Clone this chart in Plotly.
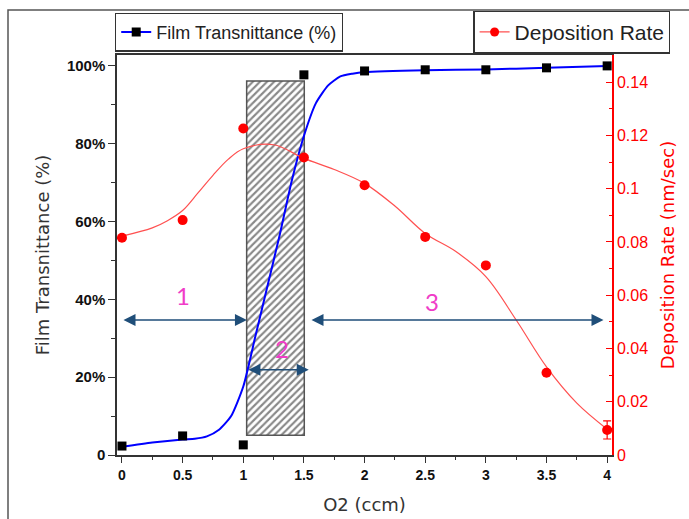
import plotly.graph_objects as go

# ---------------- data ----------------
o2 = [0, 0.5, 1, 1.5, 2, 2.5, 3, 3.5, 4]
transmittance = [2.3, 4.9, 2.6, 97.7, 98.7, 99.0, 99.0, 99.5, 100.0]
dep_rate = [0.0816, 0.0882, 0.1226, 0.1117, 0.1013, 0.0819, 0.0712, 0.0309, 0.0094]
dep_err = [0, 0, 0, 0, 0, 0, 0, 0, 0.0034]

# fitted curves
fit_t_x = [0, 0.25, 0.5, 0.6, 0.7, 0.8, 0.9, 1.0, 1.1, 1.2, 1.3, 1.4, 1.5, 1.6, 1.7, 1.8, 1.9, 2.0, 2.5, 3.0, 3.5, 4.0]
fit_t_y = [2.1, 3.2, 4.0, 4.2, 4.8, 6.5, 10.0, 17.6, 30.5, 43.5, 56.5, 70.5, 82.0, 90.5, 95.0, 97.3, 98.0, 98.4, 98.9, 99.1, 99.5, 100.0]
fit_r_x = [0, 0.25, 0.375, 0.5, 0.625, 0.75, 0.875, 1.0, 1.25, 1.5, 1.75, 2.0, 2.25, 2.5, 2.75, 3.0, 3.25, 3.5, 3.75, 4.0]
fit_r_y = [0.0822, 0.0853, 0.0880, 0.0918, 0.0983, 0.1050, 0.1110, 0.1150, 0.1165, 0.1114, 0.1072, 0.1020, 0.0935, 0.0832, 0.0765, 0.0670, 0.0507, 0.0331, 0.0195, 0.0097]

# transition region (hatched box)
region_x = [1.028, 1.503]
region_y = [5.1, 96.1]

# region arrows: (x_start, x_end, y) and labels
arrows = [(0.0, 1.03, 34.7), (1.03, 1.54, 21.9), (1.55, 3.97, 34.7)]
labels = ["1", "2", "3"]
label_pos = [(0.505, 41.1), (1.317, 27.4), (2.553, 39.4)]

left_ticks = [0, 20, 40, 60, 80, 100]
left_ticktext = ["0", "20%", "40%", "60%", "80%", "100%"]
right_ticks = [0, 0.02, 0.04, 0.06, 0.08, 0.1, 0.12, 0.14]
right_ticktext = ["0", "0.02", "0.04", "0.06", "0.08", "0.1", "0.12", "0.14"]
x_ticks = [0, 0.5, 1, 1.5, 2, 2.5, 3, 3.5, 4]
x_ticktext = ["0", "0.5", "1", "1.5", "2", "2.5", "3", "3.5", "4"]

BLUE = "#0000FF"
RED = "#FF0000"
RED_LINE = "#FF5050"
ARROW = "#1F4E79"
PINK = "#F03CC8"

fig = go.Figure()

# hatched region
fig.add_trace(go.Bar(
    x=[(region_x[0] + region_x[1]) / 2], y=[region_y[1] - region_y[0]], base=[region_y[0]],
    width=[region_x[1] - region_x[0]],
    marker=dict(color="white",
                pattern=dict(shape="/", fgcolor="#111111", bgcolor="white", size=5, solidity=0.42),
                line=dict(color="#555555", width=1.5)),
    showlegend=False, hoverinfo="skip", yaxis="y"))

# transmittance fit line
fig.add_trace(go.Scatter(x=fit_t_x, y=fit_t_y, mode="lines", line=dict(color=BLUE, width=2, shape="spline", smoothing=0.6),
                         showlegend=False, hoverinfo="skip", yaxis="y"))
# transmittance points
fig.add_trace(go.Scatter(x=o2, y=transmittance, mode="markers",
                         marker=dict(symbol="square", color="black", size=9),
                         showlegend=False, yaxis="y"))
# deposition rate fit line
fig.add_trace(go.Scatter(x=fit_r_x, y=fit_r_y, mode="lines", line=dict(color=RED_LINE, width=1.2, shape="spline", smoothing=1.0),
                         showlegend=False, hoverinfo="skip", yaxis="y2"))
# deposition rate points
fig.add_trace(go.Scatter(x=o2, y=dep_rate, mode="markers",
                         marker=dict(symbol="circle", color=RED, size=10),
                         error_y=dict(type="data", array=dep_err, color=RED, thickness=1.2, width=4),
                         showlegend=False, yaxis="y2"))

# legend entries
fig.add_trace(go.Scatter(x=[None], y=[None], mode="lines+markers", name="Film Transnittance (%)",
                         line=dict(color=BLUE, width=2), marker=dict(symbol="square", color="black", size=9),
                         legend="legend", yaxis="y"))
fig.add_trace(go.Scatter(x=[None], y=[None], mode="lines+markers", name="Deposition Rate",
                         line=dict(color=RED_LINE, width=1.2), marker=dict(symbol="circle", color=RED, size=9),
                         legend="legend2", yaxis="y2"))

annotations = []
for (x0, x1, yy) in arrows:
    annotations.append(dict(x=x1, y=yy, ax=x0, ay=yy, xref="x", yref="y", axref="x", ayref="y",
                            text="", showarrow=True, arrowhead=2, arrowside="end+start",
                            arrowsize=1.5, arrowwidth=1.6, arrowcolor=ARROW, standoff=0, startstandoff=0))
for t, (lx, ly) in zip(labels, label_pos):
    annotations.append(dict(x=lx, y=ly, xref="x", yref="y", text=t, showarrow=False,
                            font=dict(family="Lato", size=24, color=PINK)))

fig.update_layout(
    width=689, height=519,
    margin=dict(l=117, r=77, t=55, b=64, autoexpand=False),
    paper_bgcolor="white", plot_bgcolor="white",
    barmode="overlay",
    annotations=annotations,
    font=dict(family="Liberation Sans", color="#333333"),
    xaxis=dict(range=[-0.041, 4.04], tickvals=x_ticks, ticktext=x_ticktext,
               ticks="outside", ticklen=6, tickwidth=1.3, tickcolor="#333333",
               minor=dict(dtick=0.25, tick0=0, ticks="outside", ticklen=3, tickcolor="#333333"),
               showline=True, linecolor="#333333", linewidth=1.5, mirror=True,
               showgrid=False, zeroline=False, automargin=False,
               tickfont=dict(family="Liberation Sans", size=14, color="#111111", weight="bold"),
               title=dict(text="O2 (ccm)", font=dict(family="DejaVu Sans", size=18, color="#333333"), standoff=17)),
    yaxis=dict(range=[0, 102.8], tickvals=left_ticks, ticktext=left_ticktext,
               ticks="outside", ticklen=7, tickwidth=1.3, tickcolor="#333333",
               minor=dict(dtick=10, tick0=0, ticks="outside", ticklen=4, tickcolor="#333333"),
               showline=True, linecolor="#333333", linewidth=1.5,
               showgrid=False, zeroline=False, automargin=False,
               tickfont=dict(family="Liberation Sans", size=15, color="#111111", weight="bold"),
               title=dict(text="Film Transnittance (%)", font=dict(family="DejaVu Sans", size=18, color="#333333"), standoff=13)),
    yaxis2=dict(range=[0, 0.1502], overlaying="y", side="right", anchor="x",
                tickvals=right_ticks, ticktext=right_ticktext,
                ticks="inside", ticklen=6, tickwidth=1.3, tickcolor=RED,
                minor=dict(dtick=0.01, tick0=0, ticks="inside", ticklen=3, tickcolor=RED),
                showline=True, linecolor=RED, linewidth=1.5,
                showgrid=False, zeroline=False, automargin=False,
                tickfont=dict(family="Liberation Sans", size=16, color=RED),
                title=dict(text="Deposition Rate (nm/sec)", font=dict(family="DejaVu Sans", size=18, color=RED), standoff=14)),
    legend=dict(x=-0.004, y=1.106, xanchor="left", yanchor="top", bgcolor="white",
                bordercolor="#333333", borderwidth=1.2,
                font=dict(family="Liberation Sans", size=18, color="#222222"),
                tracegroupgap=0, itemwidth=30),
    legend2=dict(x=0.72, y=1.111, xanchor="left", yanchor="top", bgcolor="white",
                 bordercolor="#333333", borderwidth=1.2,
                 font=dict(family="Liberation Sans", size=21, color="#222222"),
                 tracegroupgap=0, itemwidth=30),
    shapes=[dict(type="rect", xref="paper", yref="paper", x0=-0.2202, x1=2.0, y0=-0.5, y1=1.1125,
                 line=dict(color="#555555", width=1.5), fillcolor="rgba(0,0,0,0)", layer="below")],
)

fig.write_html("out.html", config={"displayModeBar": False},
               post_script="document.body.style.margin='0px';")
